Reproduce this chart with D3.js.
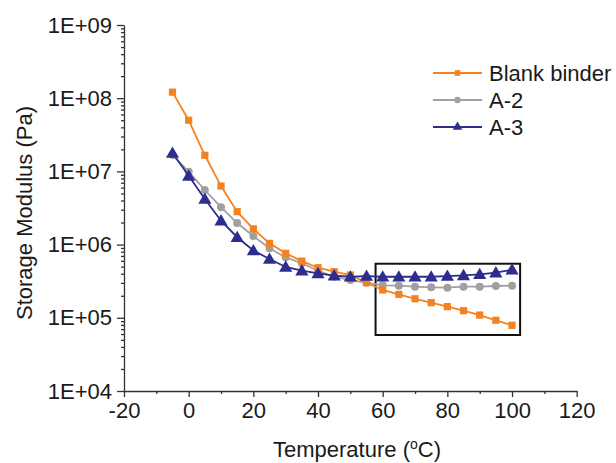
<!DOCTYPE html>
<html><head><meta charset="utf-8">
<script src="https://cdn.jsdelivr.net/npm/d3@7"></script>
<style>body{margin:0;background:#fff}svg{display:block}text{font-family:"Liberation Sans",Arial,sans-serif;fill:#1a1a1a}</style>
</head><body>
<script>
const temps = [-5,0,5,10,15,20,25,30,35,40,45,50,55,60,65,70,75,80,85,90,95,100];
const blank = [1.21e8,5.0e7,1.66e7,6.3e6,2.82e6,1.64e6,1.04e6,7.6e5,5.95e5,4.83e5,4.26e5,3.84e5,3.02e5,2.40e5,2.09e5,1.82e5,1.61e5,1.42e5,1.25e5,1.09e5,9.25e4,7.9e4];
const a2 = [1.67e7,9.9e6,5.57e6,3.24e6,1.97e6,1.31e6,8.9e5,6.7e5,5.56e5,4.4e5,3.64e5,3.28e5,3.02e5,2.78e5,2.75e5,2.66e5,2.61e5,2.58e5,2.66e5,2.66e5,2.72e5,2.75e5];
const a3 = [1.78e7,8.7e6,4.2e6,2.12e6,1.26e6,8.3e5,6.35e5,4.95e5,4.4e5,4.05e5,3.76e5,3.64e5,3.72e5,3.64e5,3.64e5,3.64e5,3.64e5,3.72e5,3.8e5,3.93e5,4.13e5,4.54e5];
const seriesNames = ["Blank binder","A-2","A-3"];
const xTicks = [-20,0,20,40,60,80,100,120];
const yTicks = [1e4,1e5,1e6,1e7,1e8,1e9];
const yTickLabels = ["1E+04","1E+05","1E+06","1E+07","1E+08","1E+09"];
const boxT = [57.8,102.5];
const boxV = [5.82e4,5.48e5];

const W=616,H=463;
const FS="22px";
const svg=d3.select("body").append("svg").attr("width",W).attr("height",H);
const x=d3.scaleLinear().domain([-20,120]).range([124,576.7]);
const y=d3.scaleLog().domain([1e4,1e9]).range([391,25]);
const axisColor="#333";

// axes
const gx=svg.append("g").attr("transform","translate(0,391)");
gx.call(d3.axisBottom(x).tickValues(xTicks).tickSize(6).tickSizeOuter(0).tickPadding(5).tickFormat(d=>d));
const gxm=svg.append("g").attr("transform","translate(0,391)");
gxm.call(d3.axisBottom(x).tickValues(d3.range(-10,120,20)).tickSize(3).tickSizeOuter(0).tickFormat(""));
gxm.select(".domain").remove();
const gy=svg.append("g").attr("transform","translate(124,0)");
gy.call(d3.axisLeft(y).tickValues(yTicks).tickSize(7).tickSizeOuter(0).tickPadding(5).tickFormat((d,i)=>yTickLabels[i]));
const minor=[];
for(let e=4;e<9;e++)for(let k=2;k<10;k++)minor.push(k*Math.pow(10,e));
const gym=svg.append("g").attr("transform","translate(124,0)");
gym.call(d3.axisLeft(y).tickValues(minor).tickSize(3).tickSizeOuter(0).tickFormat(""));
gym.select(".domain").remove();
svg.selectAll(".domain,.tick line").attr("stroke",axisColor).attr("stroke-width",1.3);
svg.selectAll(".tick text").style("font-size",FS).style("font-family","Liberation Sans, Arial, sans-serif").attr("fill","#1a1a1a");

// titles
svg.append("text").attr("x",357).attr("y",457).attr("text-anchor","middle").style("font-size",FS)
 .html('Temperature (<tspan baseline-shift="super" style="font-size:14px">o</tspan>C)');
svg.append("text").attr("transform","translate(32,213) rotate(-90)").attr("text-anchor","middle").style("font-size",FS).text("Storage Modulus (Pa)");

// box
svg.append("rect").attr("x",x(boxT[0])).attr("y",y(boxV[1])).attr("width",x(boxT[1])-x(boxT[0])).attr("height",y(boxV[0])-y(boxV[1]))
 .attr("fill","none").attr("stroke","#111").attr("stroke-width",2);

const colors=["#F58220","#A0A0A0","#2E2D8F"];
const shapes=[d3.symbolSquare,d3.symbolCircle,d3.symbolTriangle];
const sizes=[52,50,75];
const data=[blank,a2,a3];
const line=d3.line().x(d=>x(d[0])).y(d=>y(d[1]));
[1,0,2].forEach(i=>{
  const pts=temps.map((t,j)=>[t,data[i][j]]);
  svg.append("path").attr("d",line(pts)).attr("fill","none").attr("stroke",colors[i]).attr("stroke-width",1.8);
  svg.append("g").selectAll("path").data(pts).join("path")
   .attr("transform",d=>`translate(${x(d[0])},${y(d[1])+(i==2?1:0)})`)
   .attr("d",d3.symbol(shapes[i],sizes[i])).attr("fill",colors[i]);
});

// legend
const lg=svg.append("g");
seriesNames.forEach((n,i)=>{
  const yy=73+i*27;
  lg.append("line").attr("x1",433).attr("x2",482).attr("y1",yy).attr("y2",yy).attr("stroke",colors[i]).attr("stroke-width",1.8);
  lg.append("path").attr("transform",`translate(457.5,${yy})`).attr("d",d3.symbol(shapes[i],i==2?40:32)).attr("fill",colors[i]);
  lg.append("text").attr("x",489).attr("y",yy+8).style("font-size",FS).text(n);
});
</script>
</body></html>
